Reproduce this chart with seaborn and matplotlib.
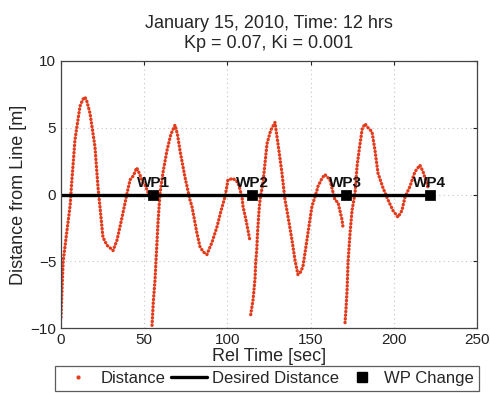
import numpy as np
import pandas as pd
import matplotlib
matplotlib.use("Agg")
import matplotlib.pyplot as plt
from matplotlib.lines import Line2D
import seaborn as sns

# Cross-track distance, one list pair per leg between waypoints
leg1_t = [0.0, 0.7, 1.3, 3.3, 5.5, 6.5, 8.4, 11.4, 13.0, 14.4, 15.5, 17.4, 20.4, 22.2,
          23.4, 25.2, 27.6, 29.5, 31.3, 33.7, 36.7, 39.7, 41.5, 43.5, 45.5, 47.0,
          49.3, 50.5, 52.8]
leg1_d = [-9.2, -6.8, -5.0, -3.0, -0.8, 1.0, 4.1, 6.6, 7.1, 7.3, 7.0, 6.1, 3.6, 0.6,
          -0.9, -3.2, -3.8, -4.0, -4.2, -3.4, -1.7, 0.1, 1.1, 1.4, 2.0, 1.6,
          0.9, 0.7, 0.0]

leg2_t = [54.7, 55.5, 56.5, 57.5, 58.3, 59.5, 61.5, 63.7, 66.0, 68.5, 70.0, 71.5,
          74.5, 77.5, 78.7, 81.7, 83.5, 85.5, 87.7, 89.0, 90.7, 93.8, 96.0, 98.5,
          99.7, 100.3, 103.4, 106.4, 108.8, 109.4, 111.5, 113.6]
leg2_d = [-9.8, -8.0, -6.4, -4.0, -2.1, 0.1, 1.8, 3.3, 4.5, 5.2, 4.5, 3.3,
          1.3, -0.4, -0.9, -2.9, -3.9, -4.3, -4.5, -4.1, -3.6, -2.4, -1.3, -0.2,
          0.6, 1.1, 1.2, 0.9, -0.2, -0.9, -2.1, -3.5]

leg3_t = [114.0, 115.4, 116.6, 117.0, 117.6, 118.2, 119.0, 119.6, 121.4, 123.8, 126.0,
          128.6, 130.4, 132.8, 134.6, 135.8, 138.8, 140.6, 142.4, 144.0, 145.4, 148.4,
          150.8, 153.8, 154.4, 156.8, 158.6, 161.6, 164.6, 166.5, 168.9, 169.5]
leg3_d = [-9.0, -7.9, -6.3, -5.1, -4.2, -2.7, -1.2, -0.4, 0.9, 3.8, 4.8,
          5.4, 3.8, 1.6, -0.4, -1.2, -3.4, -4.9, -6.0, -5.8, -5.4, -2.9,
          -0.9, 0.3, 0.6, 1.2, 1.5, 1.1, -0.4, -0.6, -1.9, -2.5]

leg4_t = [170.7, 171.3, 171.9, 172.5, 173.7, 174.9, 176.7, 177.9, 179.7, 181.0, 182.7,
          184.5, 186.9, 188.7, 190.5, 193.5, 196.5, 199.5, 202.5, 204.9, 206.7, 209.7,
          212.7, 215.7, 217.6, 220.6]
leg4_d = [-9.6, -8.5, -7.2, -5.1, -2.9, -1.2, 0.1, 2.1, 3.8, 4.9, 5.3,
          5.0, 4.7, 3.3, 1.6, 0.5, -0.4, -1.2, -1.7, -1.2, -0.2, 0.6,
          1.7, 2.2, 1.7, 0.5]

# Waypoint changes
wp_names = ["WP1", "WP2", "WP3", "WP4"]
wp_t = [55.4, 114.9, 171.2, 221.7]
wp_d = [0, 0, 0, 0]

# Desired distance (the track line itself)
desired_t = [0, 221.7]
desired_d = [0, 0]

x_ticks = [0, 50, 100, 150, 200, 250]
y_ticks = [-10, -5, 0, 5, 10]

legs = [(leg1_t, leg1_d), (leg2_t, leg2_d), (leg3_t, leg3_d), (leg4_t, leg4_d)]
df = pd.concat(
    [pd.DataFrame({"t": t, "d": d, "leg": i}) for i, (t, d) in enumerate(legs, 1)],
    ignore_index=True)
desired = pd.DataFrame({"t": desired_t, "d": desired_d})
wps = pd.DataFrame({"t": wp_t, "d": wp_d, "name": wp_names})

sns.set_style("white")
plt.rcParams["font.family"] = ["Liberation Sans", "DejaVu Sans"]

red = "#e23c1c"
fig = plt.figure(figsize=(4.9, 3.93), dpi=100)
ax = fig.add_axes([61 / 490, 65 / 393, 416 / 490, 267 / 393])

ax.grid(True, linestyle=(0, (1, 3)), color="#c4c4c4", linewidth=0.8)
ax.set_axisbelow(True)

sns.lineplot(data=df, x="t", y="d", units="leg", estimator=None, sort=False,
             color=red, ax=ax, linewidth=2.4, linestyle=(0, (0.1, 1.0)),
             dash_capstyle="round", legend=False)
sns.lineplot(data=desired, x="t", y="d", color="black", linewidth=2.4, ax=ax,
             legend=False)
sns.scatterplot(data=wps, x="t", y="d", marker="s", s=42, color="black",
                edgecolor="black", ax=ax, legend=False, zorder=5)
for _, r in wps.iterrows():
    ax.text(r["t"], r["d"] + 0.55, r["name"], ha="center", va="baseline",
            fontsize=11, fontweight="bold", color="#111111", zorder=6)

ax.set_xlim(0, 250)
ax.set_ylim(-10, 10)
ax.set_xticks(x_ticks)
ax.set_yticks(y_ticks)
ax.set_yticklabels(["\u221210", "\u22125", "0", "5", "10"])
ax.tick_params(direction="in", length=3, top=True, right=True, labelsize=11,
               colors="#222222", width=0.8)
for s in ax.spines.values():
    s.set_color("#444444")
    s.set_linewidth(0.9)

ax.set_xlabel("Rel Time [sec]", fontsize=13, labelpad=1)
ax.set_ylabel("Distance from Line [m]", fontsize=13, labelpad=2)
ax.set_title("January 15, 2010, Time: 12 hrs\nKp = 0.07, Ki = 0.001",
             fontsize=13, pad=9, linespacing=1.3)

handles = [
    Line2D([], [], linestyle="none", marker=".", markersize=4, color=red),
    Line2D([], [], color="black", linewidth=2.4),
    Line2D([], [], linestyle="none", marker="s", markersize=6.5, color="black"),
]
leg = fig.legend(handles, ["Distance", "Desired Distance", "WP Change"],
                 loc="upper left", bbox_to_anchor=(55 / 490, 1 - 366 / 393),
                 bbox_transform=fig.transFigure, ncol=3, fontsize=12,
                 frameon=True, fancybox=False, edgecolor="#333333",
                 handlelength=2.2, handletextpad=0.25, columnspacing=0.3,
                 borderpad=0.3, borderaxespad=0)
leg.get_frame().set_linewidth(0.9)

fig.savefig("out.png", dpi=100)
